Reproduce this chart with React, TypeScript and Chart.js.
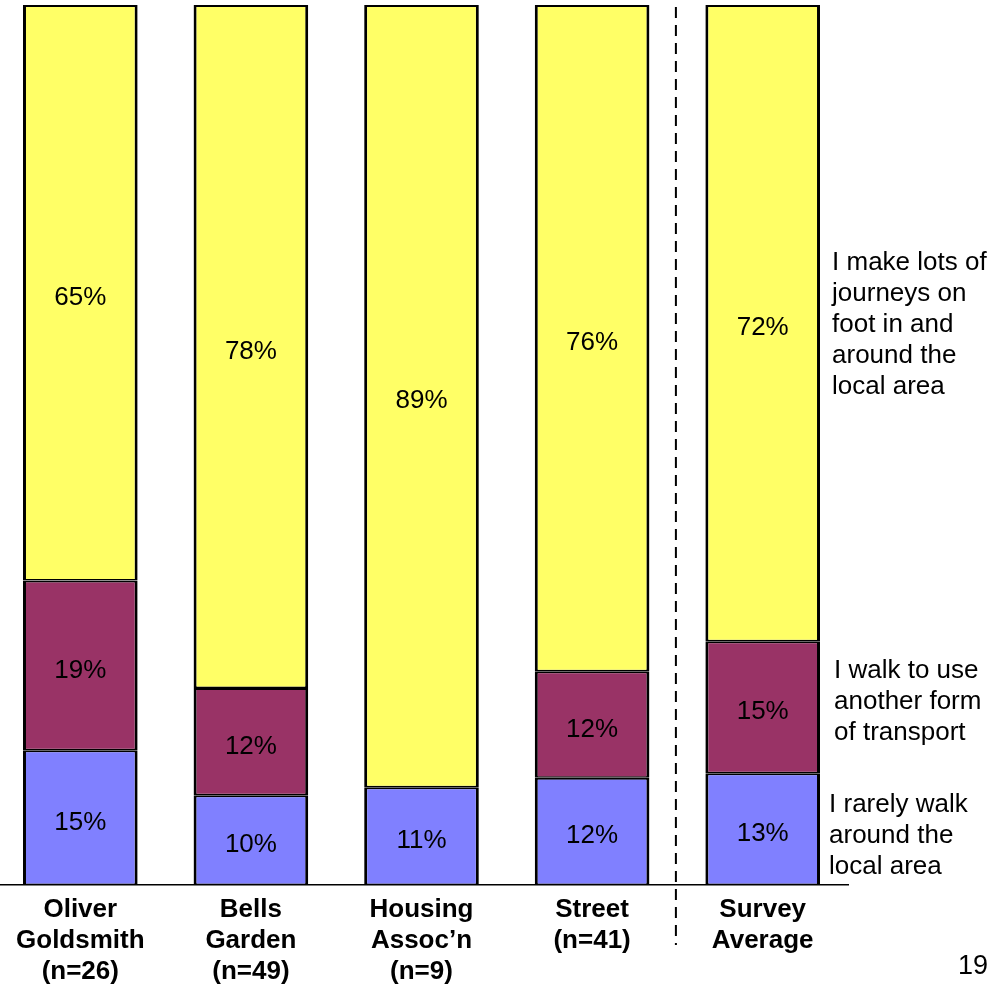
import React, { useEffect, useRef } from "react";
import { Chart, registerables } from "chart.js";

Chart.register(...registerables);

const categories: string[][] = [
  ["Oliver", "Goldsmith", "(n=26)"],
  ["Bells", "Garden", "(n=49)"],
  ["Housing", "Assoc\u2019n", "(n=9)"],
  ["Street", "(n=41)"],
  ["Survey", "Average"],
];

const rarelyWalk: (number | null)[] = [15.3, 10.2, 11.1, 12.2, 12.7];
const walkToTransport: (number | null)[] = [19.3, 12.2, null, 12.1, 15.0];
const lotsOnFoot: (number | null)[] = [65.4, 77.6, 88.9, 75.7, 72.3];

const seriesNames: string[][] = [
  ["I rarely walk", "around the", "local area"],
  ["I walk to use", "another form", "of transport"],
  ["I make lots of", "journeys on", "foot in and", "around the", "local area"],
];

const seriesColors = ["#8080FF", "#993366", "#FFFF66"];
const pageNumber = "19";

const FONT = '"Liberation Sans", Arial, Helvetica, sans-serif';

const overlayPlugin = {
  id: "overlay",
  afterDatasetsDraw(chart: any) {
    const ctx = chart.ctx as CanvasRenderingContext2D;
    const xs = chart.scales.x;
    ctx.save();
    // value labels
    ctx.font = `26px ${FONT}`;
    ctx.fillStyle = "#000";
    ctx.textAlign = "center";
    ctx.textBaseline = "middle";
    chart.data.datasets.forEach((ds: any, di: number) => {
      const meta = chart.getDatasetMeta(di);
      meta.data.forEach((bar: any, i: number) => {
        const v = ds.data[i];
        if (v == null || v <= 0) return;
        const p = bar.getProps(["x", "y", "base"], true);
        ctx.fillText(Math.round(v) + "%", p.x, (p.y + p.base) / 2 + 5);
      });
    });

    // side texts next to last bar
    const last = categories.length - 1;
    const offsets = [
      { dx: 9, dy: 7 },
      { dx: 14, dy: -5 },
      { dx: 12, dy: 2 },
    ];
    ctx.textAlign = "left";
    seriesNames.forEach((lines, di) => {
      const bar: any = chart.getDatasetMeta(di).data[last];
      const p = bar.getProps(["x", "y", "base", "width"], true);
      const cy = (p.y + p.base) / 2 + offsets[di].dy;
      const x = p.x + p.width / 2 + offsets[di].dx;
      lines.forEach((t, j) => {
        ctx.fillText(t, x, cy + (j - (lines.length - 1) / 2) * 31);
      });
    });

    // dashed separator
    const dx = (xs.getPixelForValue(last - 1) + xs.getPixelForValue(last)) / 2 - 1.5;
    ctx.strokeStyle = "#000";
    ctx.lineWidth = 2;
    ctx.setLineDash([11, 7]);
    ctx.beginPath();
    ctx.moveTo(dx, chart.chartArea.top + 2);
    ctx.lineTo(dx, 945);
    ctx.stroke();
    ctx.setLineDash([]);

    // page number
    ctx.textAlign = "right";
    ctx.font = `27px ${FONT}`;
    ctx.fillText(pageNumber, chart.width - 1, 967);
    ctx.restore();
  },
};

export default function App() {
  const ref = useRef<HTMLCanvasElement>(null);
  useEffect(() => {
    if (!ref.current) return;
    const seriesData = [rarelyWalk, walkToTransport, lotsOnFoot];
    const chart = new Chart(ref.current, {
      type: "bar",
      data: {
        labels: categories,
        datasets: seriesData.map((d, i) => ({
          label: seriesNames[i].join(" "),
          data: d,
          backgroundColor: seriesColors[i],
          borderColor: "#000",
          borderWidth: { top: 2, bottom: 1.5, left: 3, right: 3 },
          borderSkipped: false,
          inflateAmount: 0,
          barPercentage: 0.672,
          categoryPercentage: 1,
        })),
      },
      options: {
        responsive: false,
        animation: false,
        devicePixelRatio: 1,
        layout: { padding: { left: 0, right: 141, top: 5, bottom: 0 } },
        plugins: { legend: { display: false }, tooltip: { enabled: false } },
        scales: {
          x: {
            stacked: true,
            grid: { display: false, drawTicks: false },
            border: { display: true, color: "#000", width: 1.5 },
            ticks: {
              color: "#000",
              font: { family: FONT, size: 26, weight: "bold", lineHeight: 31 / 26 },
              padding: 9,
              autoSkip: false,
              maxRotation: 0,
              minRotation: 0,
            },
            afterFit(scale: any) {
              scale.height = 102;
            },
          },
          y: {
            stacked: true,
            display: false,
            min: 0,
            max: 100,
          },
        },
      },
      plugins: [overlayPlugin],
    } as any);
    return () => chart.destroy();
  }, []);
  return (
    <div style={{ position: "absolute", left: -5, top: 0, width: 994, height: 987 }}>
      <canvas ref={ref} width={994} height={987} />
    </div>
  );
}
